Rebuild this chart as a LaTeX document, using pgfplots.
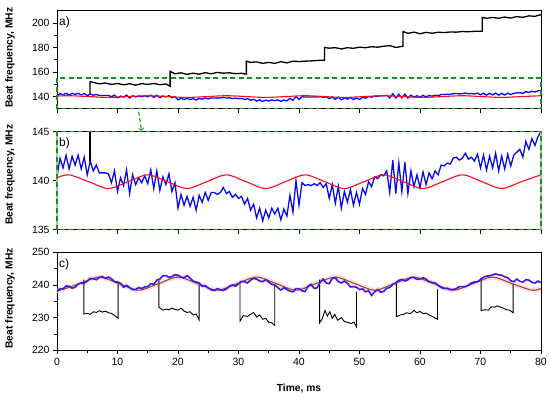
\documentclass[border=0pt]{standalone}
\usepackage{pgfplots}
\pgfplotsset{compat=1.18}
\usepackage{pgfplotstable}
\usepackage{fontspec}
\setmainfont{Liberation Sans}
\definecolor{gr}{RGB}{30,140,30}
\definecolor{myblue}{RGB}{10,10,235}
\definecolor{cblue}{RGB}{60,25,235}
\definecolor{myred}{RGB}{250,10,30}
\definecolor{brown2}{RGB}{150,80,30}
\definecolor{pinkb}{RGB}{255,215,235}

\pgfplotstableread{
t v
0 140.4
0.5 142.3
1.0 141.3
1.5 142.6
2.0 141.2
2.5 142.5
3.0 141.6
3.5 142.6
4.0 141.2
4.5 142.4
5.0 140.6
5.5 142.0
6.0 141.0
6.5 141.6
7.0 140.8
7.5 140.8
8.0 140.8
8.5 140.7
9.0 139.8
9.5 141.0
10.0 138.9
10.5 140.3
11.0 139.5
11.5 141.1
12.0 138.7
12.5 140.6
13.0 139.6
13.5 140.3
14.0 139.8
14.5 140.5
15.0 139.7
15.5 141.1
16.0 139.2
16.5 141.0
17.0 139.0
17.5 140.4
18.0 139.6
18.5 140.7
19.0 138.9
19.5 139.8
20.0 137.2
20.5 138.6
21.0 137.5
21.5 138.4
22.0 137.4
22.5 138.3
23.0 137.0
23.5 138.5
24.0 137.8
24.5 138.8
25.0 138.0
25.5 138.8
26.0 138.8
26.5 138.6
27.0 138.8
27.5 139.3
28.0 138.7
28.5 138.9
29.0 138.3
29.5 138.6
30.0 138.2
30.5 138.4
31.0 137.6
31.5 138.2
32.0 137.0
32.5 137.6
33.0 136.2
33.5 137.2
34.0 135.9
34.5 137.0
35.0 136.2
35.5 137.2
36.0 136.6
36.5 137.2
37.0 136.0
37.5 137.1
38.0 136.4
38.5 138.5
39.0 136.8
39.5 140.0
40.0 137.5
40.5 139.8
41.0 139.5
41.5 139.6
42.0 139.5
42.5 139.7
43.0 139.5
43.5 139.8
44.0 139.3
44.5 139.7
45.0 138.2
45.5 139.6
46.0 137.7
46.5 139.4
47.0 137.2
47.5 138.9
48.0 137.8
48.5 139.1
49.0 137.5
49.5 138.8
50.0 137.6
50.5 139.2
51.0 138.6
51.5 139.9
52.0 139.4
52.5 140.4
53.0 140.2
53.5 140.6
54.0 140.5
54.5 141.0
55.0 138.8
55.5 142.1
56.0 138.7
56.5 141.8
57.0 138.9
57.5 141.9
58.0 138.7
58.5 141.0
59.0 139.4
59.5 140.6
60.0 139.3
60.5 140.9
61.0 139.6
61.5 140.8
62.0 140.2
62.5 141.0
63.0 140.6
63.5 141.6
64.0 141.5
64.5 141.8
65.0 141.7
65.5 142.3
66.0 142.4
66.5 142.1
67.0 142.3
67.5 142.8
68.0 142.2
68.5 142.4
69.0 142.0
69.5 142.7
70.0 141.3
70.5 142.6
71.0 141.1
71.5 142.5
72.0 141.3
72.5 142.8
73.0 141.0
73.5 142.5
74.0 141.2
74.5 142.7
75.0 141.5
75.5 142.6
76.0 142.9
76.5 143.2
77.0 142.4
77.5 144.0
78.0 143.2
78.5 144.3
79.0 143.6
79.5 144.5
80.0 145.0
}\bluedata

\pgfplotstableread{
t v
0 140.3
2 140.6
5.25 139.9
8.5 139.2
11.75 139.9
15 140.6
18.25 139.9
21.5 139.2
24.75 139.9
28 140.6
31.25 139.9
34.5 139.2
37.75 139.9
41 140.6
44.25 139.9
47.5 139.2
50.75 139.9
54 140.6
57.25 139.9
60.5 139.2
63.75 139.9
67 140.6
70.25 139.9
73.5 139.2
76.75 139.9
80 140.6
}\reddata

\pgfplotstableread{
t v
5.45 141.9
5.45 152.0
6 151.5
7 150.3
8 151.0
9 149.8
10 150.6
11 149.5
12 150.4
13 149.2
14 150.5
15 149.8
16 150.6
17 149.6
18 150.2
18.7 148.3
18.7 160.5
19.5 158.5
20.5 159.3
21.5 158.0
22.5 159.0
23.5 158.2
24.5 159.4
25.5 158.5
26.5 159.6
27.5 159.0
28.5 159.3
29.5 158.6
30.5 158.9
31.3 158.2
31.3 168.8
32 167.8
33 168.2
34 167.0
35 167.8
36 167.0
37 168.4
38 167.4
39 168.8
40 168.5
41 168.8
42 169.0
43 169.4
44.2 169.6
44.2 180.0
45 179.4
46 179.8
47 178.8
48 179.8
49 179.3
50 180.2
51 179.8
52 180.6
53 180.2
54 181.0
55 181.5
56 180.0
57.2 181.0
57.2 193.0
58 191.5
59 192.5
60 191.2
61 192.3
62 191.6
63 192.4
64 192.2
65 192.6
66 192.5
67 193.0
68 192.8
69 193.2
70.3 193.3
70.3 204.5
71 203.8
72 204.5
73 203.8
74 204.8
75 204.0
76 205.2
77 204.6
78 205.8
79 205.4
80 206.8
}\blackdata

\pgfplotstableread{
t v
0 238.46
0.5 238.4
3.75 240.4
7 242.4
10.25 240.4
13.5 238.4
16.75 240.4
20 242.4
23.25 240.4
26.5 238.4
29.75 240.4
33 242.4
36.25 240.4
39.5 238.4
42.75 240.4
46 242.4
49.25 240.4
52.5 238.4
55.75 240.4
59 242.4
62.25 240.4
65.5 238.4
68.75 240.4
72 242.4
75.25 240.4
78.5 238.4
80 238.9
}\browndata

\pgfplotstableread{
t v
0 238.0
0.5 238.9
1 238.8
1.5 239.7
2 239.6
2.5 239.0
3 239.3
3.5 240.3
4 240.6
4.5 240.6
5 241.2
5.5 242.0
6 241.9
6.5 241.6
7 242.3
7.5 242.6
8 242.0
8.5 242.4
9 241.9
9.5 241.0
10 240.9
10.5 240.5
11 239.3
11.5 239.9
12 239.2
12.5 238.6
13 238.6
13.5 239.2
14 238.9
14.5 239.4
15 239.5
15.5 240.4
16 240.2
16.5 241.5
17 241.8
17.5 242.8
18 242.9
18.5 242.3
19 242.6
19.5 243.1
20 243.0
20.5 242.4
21 242.2
21.5 242.9
22 242.1
22.5 241.2
23 240.9
23.5 240.6
24 239.6
24.5 239.8
25 239.1
25.5 238.5
26 238.3
26.5 238.9
27 238.5
27.5 238.3
28 238.8
28.5 239.6
29 240.0
29.5 239.6
30 240.4
30.5 241.1
31 241.0
31.5 240.6
32 241.5
32.5 242.0
33 241.8
33.5 241.2
34 241.0
34.5 241.6
35 240.9
35.5 240.2
36 240.0
36.5 239.2
37 238.4
37.5 239.2
38 238.6
38.5 238.1
39 237.9
39.5 238.9
40 238.9
40.5 238.2
41 238.0
41.5 239.6
42 240.2
42.5 239.0
43 239.1
43.5 240.9
44 241.8
44.5 240.6
45 240.4
45.5 242.0
46 242.2
46.5 241.0
47 240.6
47.5 241.2
48 240.5
48.5 239.4
49 239.5
49.5 239.3
50 238.6
50.5 238.8
51 237.9
51.5 238.2
52 236.8
52.5 237.9
53 238.6
53.5 237.8
54 238.0
54.5 239.0
55 239.2
55.5 240.2
56 240.6
56.5 241.4
57 241.7
57.5 241.2
58 241.6
58.5 242.3
59 242.3
59.5 241.7
60 241.8
60.5 242.2
61 241.8
61.5 241.0
62 240.8
62.5 240.6
63 239.9
63.5 239.2
64 238.9
64.5 239.0
65 238.6
65.5 238.6
66 238.9
66.5 239.5
67 239.5
67.5 239.5
68 239.9
68.5 240.6
69 240.9
69.5 241.0
70 241.6
70.5 242.4
71 242.7
71.5 242.8
72 243.1
72.5 243.4
73 243.1
73.5 243.0
74 242.5
74.5 242.2
75 241.3
75.5 241.0
76 241.8
76.5 241.1
77 240.9
77.5 241.6
78 241.5
78.5 240.8
79 240.6
79.5 241.2
80 240.7
}\cbluedata

\begin{document}
\begin{tikzpicture}
\useasboundingbox (-57bp,10.7bp) rectangle (493bp,-386.3bp);
\pgfplotsset{every axis/.append style={
  scale only axis, width=484bp, height=98bp, xmin=0, xmax=80,
  anchor=north west, tick align=outside, tick pos=left,
  /pgf/number format/assume math mode=true,
  tick label style={font=\fontsize{10.5}{12}\selectfont},
  label style={font=\bfseries\fontsize{10.3}{12}\selectfont},
  major tick length=4bp, minor tick length=2.5bp,
  xtick={0,10,...,80},
  axis line style={line width=0.9bp},
  every tick/.style={black, line width=0.8bp}
}}

% ---------- panel a ----------
\begin{axis}[at={(0,0)}, ymin=130, ymax=210,
  ytick={140,160,180,200}, minor ytick={150,170,190},
  xticklabels={}, clip=false,
  ylabel={Beat frequency, MHz},
  ylabel style={at={(axis description cs:-0.097,0.52)}, anchor=center}]
\addplot[black, line width=1.3bp] table[x=t,y=v] {\blackdata};
\addplot[myblue, line width=1.3bp] table[x=t,y=v] {\bluedata};
\addplot[myred, line width=1.1bp, smooth] table[x=t,y=v] {\reddata};
\node[anchor=north west, font=\fontsize{12}{14}\selectfont, inner sep=1bp] at (axis description cs:0.002,0.95) {a)};
\coordinate (ga1) at (axis cs:0,130);
\coordinate (ga2) at (axis cs:80,155);
\coordinate (arA) at (axis cs:13.5,127.6);
\coordinate (arB) at (axis cs:14,111.8);
\end{axis}
\draw[gr, line width=1.2bp, dash pattern=on 5bp off 3.5bp] (ga1) rectangle (ga2);
\draw[gr, line width=1.1bp, dash pattern=on 4bp off 2.5bp, ->] (arA) -- (arB);

% ---------- panel b ----------
\begin{axis}[at={(0,-121bp)}, ymin=135, ymax=145,
  ytick={135,140,145},
  xticklabels={},
  ylabel={Beat frequency, MHz},
  ylabel style={at={(axis description cs:-0.097,0.56)}, anchor=center}]
\addplot[black, line width=1.3bp] coordinates {(5.45,141.9) (5.45,152)};
\addplot[myblue, line width=1.3bp] table[x=t,y=v] {\bluedata};
\addplot[myred, line width=1.1bp, smooth] table[x=t,y=v] {\reddata};
\node[anchor=north west, font=\fontsize{12}{14}\selectfont, inner sep=1bp] at (axis description cs:0.002,0.95) {b)};
\coordinate (gb1) at (axis cs:0,135);
\coordinate (gb2) at (axis cs:80,145);
\end{axis}
\draw[gr!45, line width=1.1bp] (gb1) -- (gb1|-gb2);
\draw[gr!45, line width=1.1bp] (gb2) -- (gb2|-gb1);
\draw[gr, line width=1.2bp, dash pattern=on 5bp off 3.5bp] (gb1) rectangle (gb2);

% ---------- panel c ----------
\begin{axis}[at={(0,-241.6bp)}, ymin=220, ymax=250,
  ytick={220,230,240,250}, minor ytick={225,235,245},
  minor xtick={5,15,...,75},
  ylabel={Beat frequency, MHz},
  ylabel style={at={(axis description cs:-0.097,0.53)}, anchor=center},
  xlabel={Time, ms},
  xlabel style={at={(axis description cs:0.5,-0.386)}, anchor=center}]
\addplot[pinkb, line width=5bp, smooth, opacity=0.8] table[x=t,y=v] {\browndata};
\addplot[black, line width=0.9bp] coordinates {(4.45,241.6) (4.45,231.1) (5,231.3) (5.5,231.0) (6,231.8) (6.5,231.6) (7,232.1) (7.5,231.7) (8,232.0) (8.5,231.5) (9,231.3) (9.5,230.7) (10.1,229.8) (10.1,240.6)};
\addplot[black, line width=0.9bp] coordinates {(16.85,241.6) (16.85,233.2) (17.5,232.3) (18,232.6) (18.5,232.4) (19,232.9) (19.5,232.5) (20,232.3) (20.5,232.9) (21,232.0) (21.5,231.6) (22,231.8) (22.5,230.8) (23,231.1) (23.5,229.3) (23.5,240.0)};
\addplot[black, line width=0.9bp] coordinates {(30.25,241.0) (30.25,228.9) (30.8,230.6) (31.5,230.4) (32,231.0) (32.5,231.6) (33,230.2) (33.5,230.8) (34,229.5) (34.5,229.8) (35,228.6) (35.5,228.4) (36,227.6) (36,240.0)};
\addplot[black, line width=0.9bp] coordinates {(43.4,241.6) (43.4,228.4) (43.8,229.5) (44.3,232.2) (44.7,230.5) (45.1,231.8) (45.5,229.8) (45.9,231.0) (46.4,229.2) (47,230.0) (47.5,228.8) (48,228.6) (48.6,228.2) (49.1,228.6) (49.5,227.2) (49.5,238.0)};
\addplot[black, line width=0.9bp] coordinates {(56.1,241.0) (56.1,230.3) (56.7,230.8) (57.3,231.0) (57.8,231.5) (58.4,231.2) (59,232.2) (59.5,231.5) (60,231.9) (60.5,231.2) (61,231.4) (61.5,230.8) (62,230.4) (62.9,229.5) (62.9,238.8)};
\addplot[black, line width=0.9bp] coordinates {(70.1,242.2) (70.1,232.2) (70.7,232.4) (71.3,232.3) (71.8,233.3) (72.3,233.2) (72.8,233.6) (73.3,233.2) (73.8,232.9) (74.3,232.4) (74.8,232.3) (75.4,231.5) (75.4,240.3)};
\addplot[brown2, line width=1.1bp, smooth] table[x=t,y=v] {\browndata};
\addplot[cblue, line width=1.6bp] table[x=t,y=v] {\cbluedata};
\node[anchor=north west, font=\fontsize{12}{14}\selectfont, inner sep=1bp] at (axis description cs:0.002,0.95) {c)};
\end{axis}
\end{tikzpicture}
\end{document}
